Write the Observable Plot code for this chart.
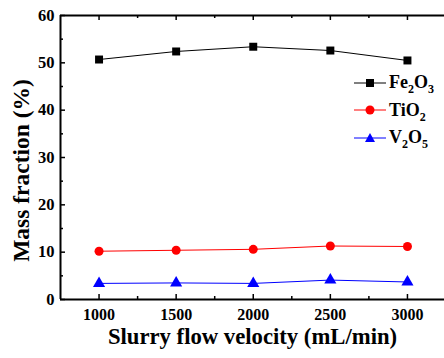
<!DOCTYPE html>
<html>
<head>
<meta charset="utf-8">
<script src="https://cdn.jsdelivr.net/npm/d3@7"></script>
<script src="https://cdn.jsdelivr.net/npm/@observablehq/plot@0.6"></script>
<style>
  html, body { margin: 0; padding: 0; background: #fff; }
  #wrap { position: relative; width: 444px; height: 358px; overflow: hidden; font-family: "Liberation Serif", "Times New Roman", serif; font-weight: bold; }
  #legend { position: absolute; left: 354px; top: 69px; font-size: 18px; }
  #legend div { display: flex; align-items: center; height: 27.5px; }
  #legend svg { margin-right: 3px; }
  sub { font-size: 12px; vertical-align: -5px; line-height: 0; }
</style>
</head>
<body>
<div id="wrap"></div>
<script>
const velocity = [1000, 1500, 2000, 2500, 3000];
const fe2o3 = [50.7, 52.4, 53.4, 52.6, 50.5];
const tio2 = [10.2, 10.4, 10.6, 11.3, 11.2];
const v2o5 = [3.4, 3.5, 3.4, 4.1, 3.7];
const seriesNames = ["Fe2O3", "TiO2", "V2O5"];
const seriesLabels = ["Fe<sub>2</sub>O<sub>3</sub>", "TiO<sub>2</sub>", "V<sub>2</sub>O<sub>5</sub>"];
const seriesColors = ["#000000", "#ff0000", "#0000ff"];
const seriesSymbols = ["square", "circle", "triangle"];
const xMajor = [1000, 1500, 2000, 2500, 3000];
const xMinor = [1250, 1750, 2250, 2750];
const yMajor = [0, 10, 20, 30, 40, 50, 60];
const yMinor = [5, 15, 25, 35, 45, 55];
const xTitle = "Slurry flow velocity (mL/min)";
const yTitle = "Mass fraction (%)";

const values = [fe2o3, tio2, v2o5];
const data = [];
values.forEach((arr, s) => arr.forEach((v, i) => data.push({series: seriesNames[s], x: velocity[i], y: v})));

const xMin = 750, xMax = 3250, yMin = 0, yMax = 60;
const font = "Liberation Serif";
const plot = Plot.plot({
  width: 444,
  height: 358,
  marginTop: 15,
  marginLeft: 60,
  marginRight: 0,
  marginBottom: 59,
  style: {fontFamily: font, fontWeight: "bold", fontSize: "16px", color: "#000", background: "#fff"},
  x: {domain: [xMin, xMax], range: [60, 445.5]},
  y: {domain: [yMin, yMax]},
  color: {domain: seriesNames, range: seriesColors},
  symbol: {domain: seriesNames, range: seriesSymbols},
  marks: [
    // inward ticks: bottom
    Plot.ruleX(xMajor, {x: d => d, y1: yMin, y2: yMin, insetBottom: 5, stroke: "#000", strokeWidth: 1.5}),
    Plot.ruleX(xMinor, {x: d => d, y1: yMin, y2: yMin, insetBottom: 3, stroke: "#000", strokeWidth: 1.5}),
    // inward ticks: top
    Plot.ruleX(xMajor, {x: d => d, y1: yMax, y2: yMax, insetTop: 5, stroke: "#000", strokeWidth: 1.5}),
    Plot.ruleX(xMinor, {x: d => d, y1: yMax, y2: yMax, insetTop: 3, stroke: "#000", strokeWidth: 1.5}),
    // inward ticks: left
    Plot.ruleY(yMajor, {y: d => d, x1: xMin, x2: xMin, insetRight: -5, stroke: "#000", strokeWidth: 1.5}),
    Plot.ruleY(yMinor, {y: d => d, x1: xMin, x2: xMin, insetRight: -3, stroke: "#000", strokeWidth: 1.5}),
    Plot.axisX(xMajor, {anchor: "bottom", tickSize: 0, tickPadding: 9, tickFormat: "d", fontSize: 16, fontWeight: "bold", label: null}),
    Plot.axisY(yMajor, {anchor: "left", tickSize: 0, tickPadding: 6, tickFormat: "d", fontSize: 16.5, fontWeight: "bold", label: null}),
    Plot.ruleY([yMin, yMax], {stroke: "#000", strokeWidth: 2}),
    Plot.ruleX([xMin], {stroke: "#000", strokeWidth: 2}),
    Plot.line(data, {x: "x", y: "y", z: "series", stroke: "series", strokeWidth: 1}),
    Plot.dot(data, {x: "x", y: "y", symbol: "series", fill: "series", stroke: "none", r: 4.5}),
    Plot.text([xTitle], {frameAnchor: "bottom", dy: 44, fontSize: 22.7, fontWeight: "bold", fill: "#000", fontFamily: font}),
    Plot.text([yTitle], {frameAnchor: "left", textAnchor: "middle", rotate: -90, dx: -39, dy: 13, fontSize: 23.5, fontWeight: "bold", fill: "#000", fontFamily: font})
  ]
});
const wrap = document.getElementById("wrap");
wrap.appendChild(plot);

// legend
const legend = document.createElement("div");
legend.id = "legend";
const shapes = {
  square: '<rect x="12" y="6" width="8" height="8"/>',
  circle: '<circle cx="16" cy="10" r="4.5"/>',
  triangle: '<path d="M16,5 L21,14 L11,14 Z"/>'
};
seriesNames.forEach((n, i) => {
  const row = document.createElement("div");
  row.innerHTML = `<svg width="32" height="20"><line x1="0" x2="32" y1="10" y2="10" stroke="${seriesColors[i]}" stroke-width="1"/><g fill="${seriesColors[i]}">${shapes[seriesSymbols[i]]}</g></svg><span>${seriesLabels[i]}</span>`;
  legend.appendChild(row);
});
wrap.appendChild(legend);
</script>
</body>
</html>
